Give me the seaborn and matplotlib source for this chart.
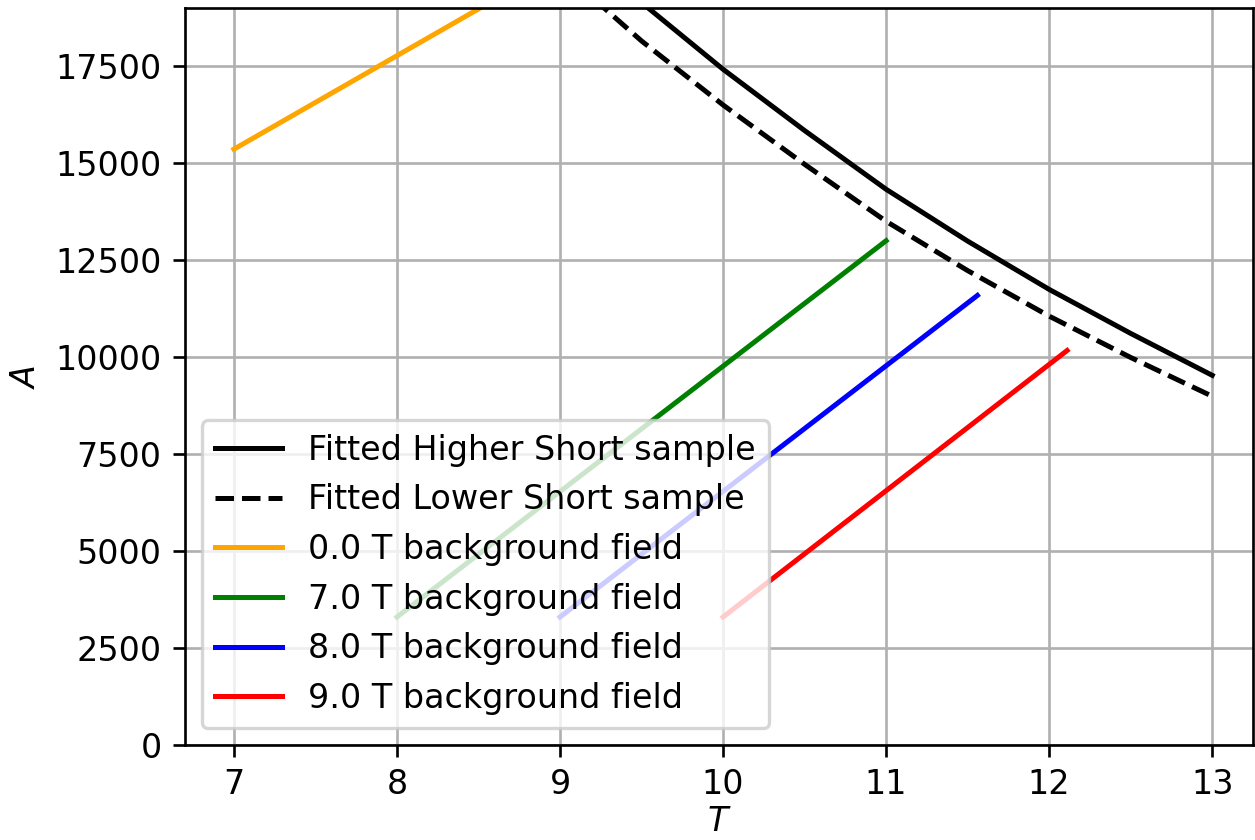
import matplotlib
matplotlib.use("Agg")
import matplotlib.pyplot as plt
import numpy as np
import seaborn as sns

# values
t_fit = [9.0, 9.5, 10.0, 10.5, 11.0, 11.5, 12.0, 12.5, 13.0]
a_high = [21100, 19140, 17420, 15840, 14326, 12990, 11745, 10610, 9530]
a_low = [20000, 18150, 16500, 14970, 13500, 12230, 11056, 9990, 8990]

field_labels = ["0.0 T background field", "7.0 T background field",
                "8.0 T background field", "9.0 T background field"]
field_colors = ["orange", "green", "blue", "red"]
field_t = [[7.0, 9.0], [8.0, 11.0], [9.0, 11.56], [10.0, 12.11]]
field_a = [[15360, 20180], [3300, 13000], [3300, 11590], [3300, 10170]]

fig, ax = plt.subplots(figsize=(1255 / 240, 840 / 240), dpi=240)
fig.subplots_adjust(left=0.1474, right=0.9984, top=0.9905, bottom=0.1131)

sns.lineplot(x=t_fit, y=a_high, color="black", linewidth=1.5, estimator=None,
             label="Fitted Higher Short sample", ax=ax)
sns.lineplot(x=t_fit, y=a_low, color="black", linewidth=1.5, linestyle="--",
             estimator=None, label="Fitted Lower Short sample", ax=ax)
for lab, col, tx, ay in zip(field_labels, field_colors, field_t, field_a):
    sns.lineplot(x=tx, y=ay, color=col, linewidth=1.5, estimator=None,
                 label=lab, ax=ax)

ax.set_xlim(6.7, 13.25)
ax.set_ylim(0, 19000)
ax.set_xticks(np.arange(7, 14, 1))
ax.set_yticks(np.arange(0, 17501, 2500))
ax.grid(True)
ax.set_xlabel("$T$", labelpad=1)
ax.set_ylabel("$A$")
ax.legend(loc="lower left")

plt.savefig("out.png", dpi=240)
